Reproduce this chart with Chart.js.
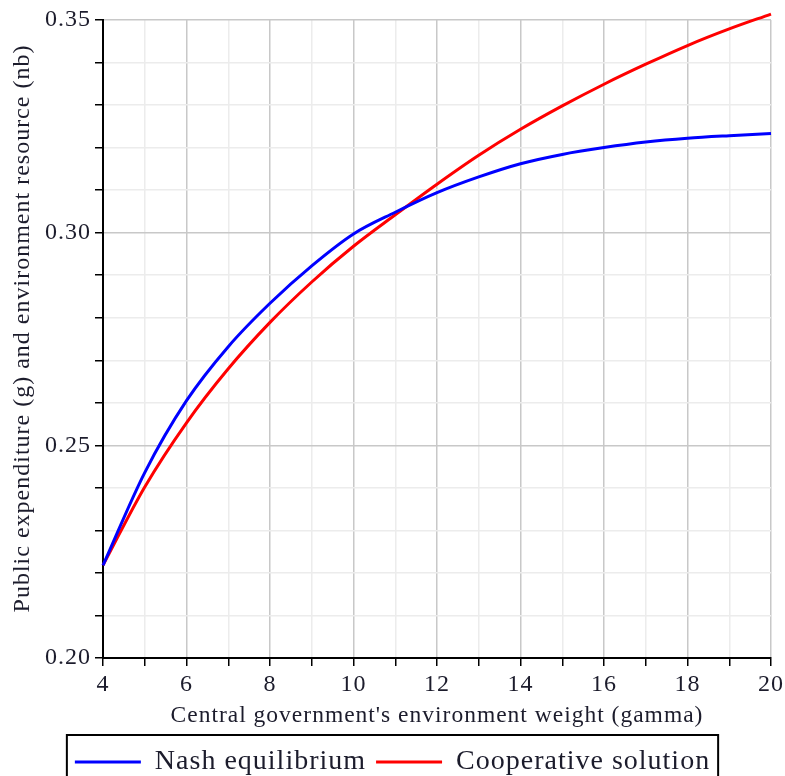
<!DOCTYPE html>
<html>
<head>
<meta charset="utf-8">
<title>Nash vs cooperative</title>
<script src="https://cdn.jsdelivr.net/npm/chart.js@4"></script>
<style>
  html, body { margin: 0; padding: 0; background: #fff; }
  #wrap { width: 785px; height: 776px; }
</style>
</head>
<body>
<div id="wrap"><canvas id="grafico" width="785" height="776"></canvas></div>
<script>
// datos
const gamma = [4, 5, 6, 7, 8, 9, 10, 11, 12, 13, 14, 15, 16, 17, 18, 19, 20];
const nash = [0.2218, 0.2436, 0.2605, 0.2732, 0.2834, 0.2922, 0.2997, 0.3048, 0.3094, 0.3131,
              0.3162, 0.3184, 0.3200, 0.3213, 0.3222, 0.3228, 0.3233];
const cooperativa = [0.2218, 0.2402, 0.2553, 0.2680, 0.2789, 0.2884, 0.2968, 0.3042, 0.3114, 0.3182,
                     0.3243, 0.3298, 0.3349, 0.3396, 0.3440, 0.3479, 0.3514];
const etiquetas = ['Nash equilibrium', 'Cooperative solution'];
const tituloX = "Central government's environment weight (gamma)";
const tituloY = '   Public expenditure (g) and environment resource (nb)';

const fuente = 'Liberation Serif, Times New Roman, serif';
const colorTexto = '#1c1c2c';

const puntos = (ys) => gamma.map((g, i) => ({ x: g, y: ys[i] }));

// marco alrededor de la leyenda
const marcoLeyenda = {
    id: 'marcoLeyenda',
    afterLayout(chart) {
        // pequeño corrimiento a la derecha como en el original
        if (chart.legend) {
            chart.legend.left += 7;
            chart.legend.right += 7;
        }
    },
    afterDraw(chart) {
        const cajas = chart.legend?.legendHitBoxes;
        if (!cajas || !cajas.length) return;
        const ctx = chart.ctx;
        const izq = cajas[0].left - 8;
        const ult = cajas[cajas.length - 1];
        const der = ult.left + ult.width + 8;
        const centro = cajas[0].top + cajas[0].height / 2;
        ctx.save();
        ctx.strokeStyle = '#000';
        ctx.lineWidth = 2;
        ctx.strokeRect(izq, centro - 27, der - izq, 70);
        ctx.restore();
    }
};

// el canvas se reinicia al redimensionar, por eso se fija antes del layout
const espaciado = {
    id: 'espaciado',
    beforeLayout(chart) { chart.ctx.letterSpacing = '1px'; },
    beforeDraw(chart) { chart.ctx.letterSpacing = '1px'; }
};

new Chart(document.getElementById('grafico').getContext('2d'), {
    type: 'line',
    data: {
        datasets: [{
            label: etiquetas[0],
            data: puntos(nash),
            borderColor: '#0000ff',
            backgroundColor: '#0000ff',
            borderWidth: 3,
            pointRadius: 0,
            cubicInterpolationMode: 'monotone',
            clip: false
        }, {
            label: etiquetas[1],
            data: puntos(cooperativa),
            borderColor: '#ff0000',
            backgroundColor: '#ff0000',
            borderWidth: 3,
            pointRadius: 0,
            cubicInterpolationMode: 'monotone',
            clip: false
        }]
    },
    options: {
        responsive: false,
        animation: false,
        layout: { padding: { top: 20, right: 14, left: 0, bottom: -10 } },
        plugins: {
            tooltip: { enabled: false },
            legend: {
                position: 'bottom',
                labels: {
                    usePointStyle: true,
                    pointStyle: 'line',
                    pointStyleWidth: 66,
                    padding: 10,
                    color: colorTexto,
                    font: { family: fuente, size: 28 }
                }
            }
        },
        scales: {
            x: {
                type: 'linear',
                min: 4,
                max: 20,
                afterFit: (s) => { s.height = 80; s.paddingRight = 0; },
                border: { color: '#000', width: 2 },
                grid: {
                    color: (c) => (c.tick.value % 2 === 0 ? '#c8c8c8' : '#ececec'),
                    lineWidth: 1.5,
                    tickColor: '#000',
                    tickLength: 8
                },
                ticks: {
                    stepSize: 1,
                    autoSkip: false,
                    maxRotation: 0,
                    color: colorTexto,
                    font: { family: fuente, size: 24 },
                    padding: 4,
                    callback: (v) => (v % 2 === 0 ? String(v) : '')
                },
                title: {
                    display: true,
                    text: tituloX,
                    color: colorTexto,
                    font: { family: fuente, size: 23.5 },
                    padding: { top: 0, bottom: 8 }
                }
            },
            y: {
                min: 0.2,
                max: 0.35,
                afterFit: (s) => { s.width = 103; },
                border: { color: '#000', width: 2 },
                grid: {
                    color: (c) => (Math.round(c.tick.value * 100) % 5 === 0 ? '#c8c8c8' : '#ececec'),
                    lineWidth: 1.5,
                    tickColor: '#000',
                    tickLength: 8
                },
                ticks: {
                    stepSize: 0.01,
                    autoSkip: false,
                    color: colorTexto,
                    font: { family: fuente, size: 24 },
                    padding: 4,
                    callback: (v) => (Math.round(v * 100) % 5 === 0 ? v.toFixed(2) : '')
                },
                title: {
                    display: true,
                    text: tituloY,
                    color: colorTexto,
                    font: { family: fuente, size: 24 },
                    padding: { top: 8, bottom: 0 }
                }
            }
        }
    },
    plugins: [espaciado, marcoLeyenda]
});
</script>
</body>
</html>
